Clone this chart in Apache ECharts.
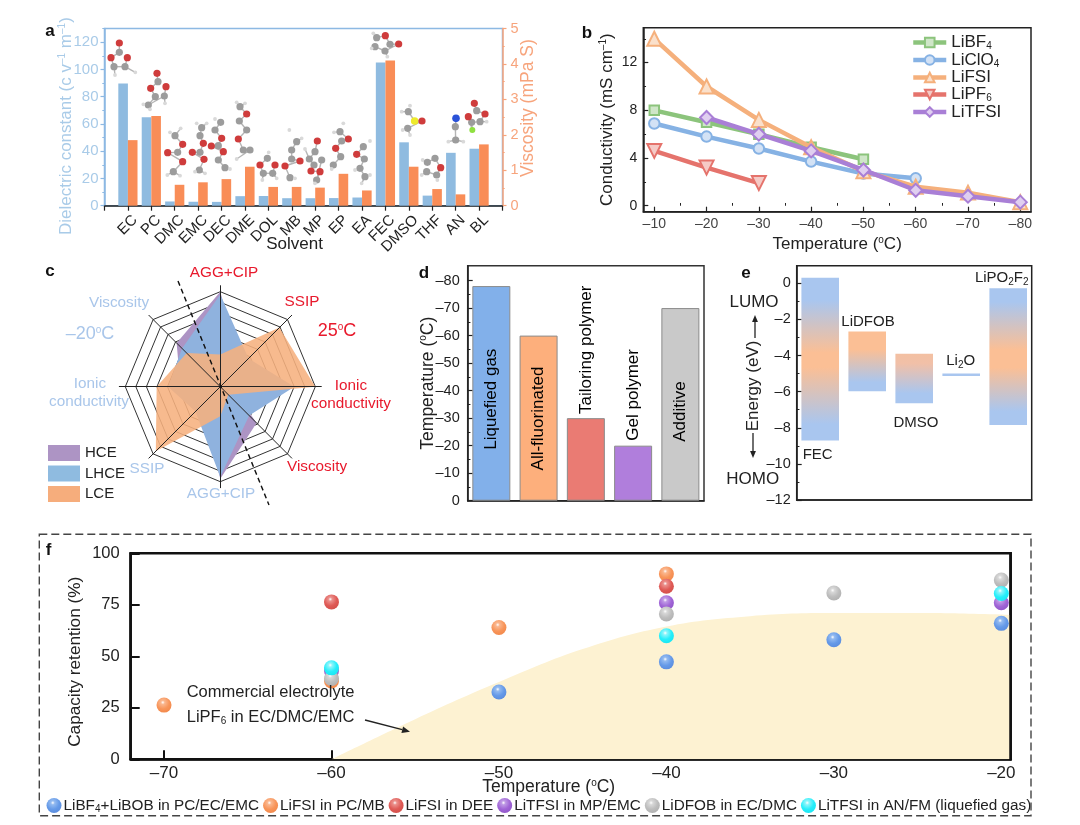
<!DOCTYPE html>
<html><head><meta charset="utf-8">
<style>html,body{margin:0;padding:0;background:#fff}#c{width:1080px;height:825px}</style>
<script src="https://cdn.jsdelivr.net/npm/echarts@6/dist/echarts.min.js"></script>
</head><body><div id="c"></div>
<script>
// ---------- DATA ----------
const solvents = ['EC','PC','DMC','EMC','DEC','DME','DOL','MB','MP','EP','EA','FEC','DMSO','THF','AN','BL'];
const dielectric = [89.6,64.9,3.1,2.9,2.8,7.0,7.1,5.5,5.5,5.6,6.0,105,46.5,7.4,38.8,41.8];
const viscosity = [1.85,2.53,0.59,0.66,0.75,1.1,0.53,0.53,0.51,0.9,0.43,4.1,1.1,0.47,0.32,1.73];

const bTemps = [-10,-20,-30,-40,-50,-60,-70,-80];
const liBF4 = [8,7,6,4.9,3.9,null,null,null];
const liClO4 = [6.9,5.8,4.8,3.7,2.7,2.3,null,null];
const liFSI = [14,10,7.2,4.9,2.9,1.6,1.1,0.3];
const liPF6 = [4.6,3.2,1.9,null,null,null,null,null];
const liTFSI = [null,7.4,6,4.6,3,1.3,0.8,0.3];

const radarAxes = ['AGG+CIP 25','Viscosity -20','Ionic conductivity -20','SSIP -20','AGG+CIP -20','Viscosity 25','Ionic conductivity 25','SSIP 25'];
const hce = [1.0,0.65,0.42,0.28,0.97,0.54,0.12,0.3];
const lhce = [0.97,0.57,0.55,0.37,0.95,0.43,0.78,0.42];
const lce = [0.34,0.5,0.67,0.96,0.31,0.12,1.0,0.88];

const dCats = ['Liquefied gas','All-fluorinated','Tailoring polymer','Gel polymer','Additive'];
const dTemps = [-78,-60,-30,-20,-70];
const dLabelAnchor = [-18.5,-11,-31.5,-21.8,-21.4];

const eCats = ['FEC','LiDFOB','DMSO','Li2O','LiPO2F2'];
const eTop = [0.31,-2.67,-3.9,-5.0,-0.28];
const eBottom = [-8.7,-5.98,-6.64,-5.14,-7.84];

const fTemps = [-70,-60,-50,-40,-30,-20];
const fBlue = [null,null,32.7,47.3,58,66];
const fOrange = [26.3,38,64,90,null,null];
const fRed = [null,76.4,null,84,null,null];
const fPurple = [null,43,null,76,null,76];
const fGrey = [null,39.2,null,70.5,80.7,87];
const fCyan = [null,44.4,null,60,null,80.5];
const commTemps = [-60,-55,-50,-45,-40,-35,-30,-25,-20,-19.44];
const commCapacity = [0,19.5,37.5,53.5,64.5,69.5,71,71,70.3,70];

// ---------- STYLE ----------
const F = '"Liberation Sans", Arial, sans-serif';
const INK = '#222';
const sup = {fontSize:10, padding:[0,0,8,0], fontFamily:F};
const sub = {fontSize:10, padding:[8,0,0,0], fontFamily:F};
const dash = v => v < 0 ? '–' + Math.abs(v) : '' + v;
const zip = (xs, ys) => xs.map((x,i)=>[x,ys[i]]).filter(p=>p[1]!=null);
const range = (a,b,s) => { const r=[]; for(let v=a; s>0? v<=b : v>=b; v+=s) r.push(v); return r; };

const grid=[], xAxis=[], yAxis=[], series=[];
function addGrid(left,top,width,height,extra){ grid.push(Object.assign({left,top,width,height,containLabel:false},extra||{})); return grid.length-1; }
function addAxis(list,o){
  const base = {gridIndex:o.grid,type:o.type||'value',min:o.min,max:o.max,inverse:!!o.inverse,position:o.pos,splitLine:{show:false},data:o.data};
  const main = Object.assign({},base,{
    name:o.name,nameLocation:'middle',nameGap:o.nameGap,nameMoveOverlap:false,
    nameTextStyle:{fontFamily:F,fontSize:o.nameSize||17,color:o.nameColor||INK,rich:o.nameRich,padding:o.namePad},
    axisLine:{show:true,onZero:false,lineStyle:{color:o.lineColor||'#222',width:o.lineWidth||1.5}},
    axisTick:{show:true,inside:!!o.inside,length:o.len||5,customValues:o.major,alignWithLabel:true,lineStyle:{color:o.lineColor||'#222',width:o.tickWidth||1.2}},
    axisLabel:Object.assign({show:true,customValues:o.labels||o.major,formatter:o.fmt||dash,color:o.color||INK,fontFamily:F,fontSize:o.size||14.5,margin:o.margin||7,rotate:o.rotate||0,showMinLabel:true,showMaxLabel:true,hideOverlap:false},o.labelExtra||{})
  });
  if(o.type==='category'){ main.axisTick={show:false}; main.axisLabel={show:false}; }
  list.push(main);
  const idx=list.length-1;
  if(o.minor){
    list.push(Object.assign({},base,{
      axisLine:{show:false},axisLabel:{show:false},
      axisTick:{show:true,inside:!!o.inside,length:(o.len||5)*0.55,customValues:o.minor,lineStyle:{color:o.lineColor||'#222',width:1}}
    }));
  }
  return idx;
}

// ---------- PANEL A ----------
const blueA='#a9cbe8', orangeA='#f7a47c';
const gA=addGrid(104.5,28.5,398,177.2,{show:true,borderColor:'#8db9e3',borderWidth:1.5,backgroundColor:'transparent'});
const xA=addAxis(xAxis,{grid:gA,min:0,max:17,pos:'bottom',major:range(0,17,1),labels:range(0,17,1),
  fmt:v=>solvents[v-1]||'',rotate:45,size:15,margin:5,labelExtra:{verticalAlign:'top',lineHeight:20},
  name:'Solvent',nameGap:30,namePad:[0,18,0,0]});
const yA=addAxis(yAxis,{grid:gA,min:0,max:130,pos:'left',major:range(0,120,20),minor:range(10,130,20),
  lineColor:'#8db9e3',color:blueA,size:15,margin:6,len:4,
  name:'Dielectric constant (c v{sup|–1} m{sup|–1})',nameColor:blueA,nameGap:29,nameSize:17,nameRich:{sup:Object.assign({},sup,{color:blueA})},namePad:[0,18,0,0]});
const yA2=addAxis(yAxis,{grid:gA,min:0,max:5,pos:'right',major:range(0,5,1),minor:[0.5,1.5,2.5,3.5,4.5],
  lineColor:orangeA,color:orangeA,size:14.5,margin:8,len:4,
  name:'Viscosity (mPa S)',nameColor:orangeA,nameGap:17,nameSize:17.5,namePad:[0,0,0,18]});
const aX=solvents.map((_,i)=>i+1);
series.push({name:'Dielectric constant',type:'bar',xAxisIndex:xA,yAxisIndex:yA,barWidth:9.6,barGap:'0%',
  data:zip(aX,dielectric),itemStyle:{color:'#8fbbe0'},z:3});
series.push({name:'Viscosity',type:'bar',xAxisIndex:xA,yAxisIndex:yA2,barWidth:9.6,barGap:'0%',
  data:zip(aX,viscosity),itemStyle:{color:'#f98d57'},z:3});

// ---------- PANEL B ----------
const gB=addGrid(643.3,27.7,387.7,184,{show:true,borderColor:'#222',borderWidth:1.5,backgroundColor:'transparent'});
const xB=addAxis(xAxis,{grid:gB,min:-82.05,max:-7.9,inverse:true,pos:'bottom',inside:true,major:range(-10,-80,-10),minor:range(-15,-75,-10),
  size:14,color:'#444',name:'Temperature ({sup|o}C)',nameGap:24,nameRich:{sup},margin:5});
const yB=addAxis(yAxis,{grid:gB,min:-0.5,max:14.93,pos:'left',inside:true,major:[0,4,8,12],minor:[2,6,10,14],
  size:14,margin:6,name:'Conductivity (mS cm{sup|–1})',nameGap:27,nameRich:{sup}});
const bSeries=[['LiBF4',liBF4,'#8cc47c','#cfe6c8','rect',9.5],['LiClO4',liClO4,'#86b2e4','#d3e2f5','circle',10.5],['LiFSI',liFSI,'#f5b07c','#fae0cb','triangle',14],['LiPF6',liPF6,'#e5736c','#f5cac6','triangle',14],['LiTFSI',liTFSI,'#a97fd6','#e0cff0','diamond',13]];
bSeries.forEach(([n,vals,c,pale,sym,size],i)=>{
  series.push({name:n,type:'line',xAxisIndex:xB,yAxisIndex:yB,data:zip(bTemps,vals),symbol:sym,symbolRotate:n==='LiPF6'?180:0,
    symbolSize:size,showSymbol:true,lineStyle:{color:c,width:4.5},
    itemStyle:{color:pale,borderColor:c,borderWidth:2,opacity:1},z:3+i});
});

// ---------- PANEL C ----------
const cCenter=[220.3,386.7];
const radar=[
 {center:cCenter,radius:95,startAngle:90,splitNumber:9,shape:'polygon',
  indicator:radarAxes.map(name=>({name,min:0,max:1})),
  axisName:{show:false},splitArea:{show:false},
  splitLine:{lineStyle:{color:'#333',width:1}},axisLine:{show:false},axisTick:{show:false},axisLabel:{show:false}},
 {center:cCenter,radius:101,startAngle:90,splitNumber:1,shape:'polygon',z:6,
  indicator:radarAxes.map(name=>({name,min:0,max:1})),
  axisName:{show:false},splitArea:{show:false},splitLine:{show:false},
  axisLine:{show:true,lineStyle:{color:'#222',width:1}},axisTick:{show:false},axisLabel:{show:false}}
];
series.push({type:'radar',radarIndex:0,symbol:'none',lineStyle:{width:0},z:3,data:[
  {name:'HCE',value:hce,areaStyle:{color:'#ad94c4',opacity:1},itemStyle:{color:'#ad94c4'}},
  {name:'LHCE',value:lhce,areaStyle:{color:'#8fb2de',opacity:1},itemStyle:{color:'#8fbbe0'}},
  {name:'LCE',value:lce,areaStyle:{color:'#f6b07e',opacity:0.88},itemStyle:{color:'#f6ad7c'}}
]});

// ---------- PANEL D ----------
const gD=addGrid(467.7,265.7,236.3,235,{show:true,borderColor:'#333',borderWidth:1.5,backgroundColor:'transparent'});
const xD=addAxis(xAxis,{grid:gD,type:'category',data:dCats,pos:'bottom'});
const yD=addAxis(yAxis,{grid:gD,min:-85.4,max:0,inverse:true,pos:'left',inside:true,major:range(-80,0,10),minor:range(-75,-5,10),
  margin:8,name:'Temperature ({sup|o}C)',nameGap:31,nameSize:17.5,nameRich:{sup}});
const dColors=['#82b0ea','#fdaf7c','#ea7b73','#b07edc','#c9c9c9'];
series.push({type:'bar',name:'Temperature',xAxisIndex:xD,yAxisIndex:yD,barWidth:38,
  data:dTemps.map((v,i)=>({value:v,itemStyle:{color:dColors[i],borderColor:'#8b8b8b',borderWidth:1}})),z:3});
series.push({type:'scatter',name:'Strategy',xAxisIndex:xD,yAxisIndex:yD,symbolSize:1,itemStyle:{color:'transparent'},z:5,silent:true,
  data:dLabelAnchor.map((v,i)=>[i,v]),
  label:{show:true,position:'inside',rotate:90,align:'left',verticalAlign:'middle',fontFamily:F,fontSize:17,color:'#000',opacity:1,
    formatter:p=>dCats[p.dataIndex]}});

// ---------- PANEL E ----------
const gE=addGrid(796.7,265.7,235,234.4,{show:true,borderColor:'#222',borderWidth:1.5,backgroundColor:'transparent'});
const xE=addAxis(xAxis,{grid:gE,type:'category',data:eCats,pos:'bottom'});
const yE=addAxis(yAxis,{grid:gE,min:-12,max:0.97,pos:'left',inside:true,major:range(-12,0,2),minor:range(-11,-1,2),margin:6});
const EB='#a9c6ef', EO='#fbbf95';
const eStops=[
 [[0,EB],[0.14,EB],[0.46,EO],[0.55,EO],[0.9,EB],[1,EB]],
 [[0,EO],[0.3,EO],[0.85,EB],[1,EB]],
 [[0,'#f3c0a2'],[0.2,'#f1c0a8'],[0.8,EB],[1,EB]],
 [[0,EB],[1,EB]],
 [[0,EB],[0.1,EB],[0.45,EO],[0.58,EO],[0.9,EB],[1,EB]]
];
series.push({type:'custom',name:'Energy',xAxisIndex:xE,yAxisIndex:yE,z:3,
  data:eTop.map((t,i)=>[i,t,eBottom[i]]),encode:{x:0,y:[1,2]},
  renderItem:(params,api)=>{
    const i=api.value(0), a=api.coord([i,api.value(1)]), b=api.coord([i,api.value(2)]), w=api.size([1,0])[0]*0.8;
    return {type:'rect',shape:{x:a[0]-w/2,y:a[1],width:w,height:b[1]-a[1]},
      style:{fill:new echarts.graphic.LinearGradient(0,0,0,1,eStops[i].map(s=>({offset:s[0],color:s[1]})))}};
  }});

// ---------- PANEL F ----------
const gF=addGrid(130.7,553.3,880,206,{show:true,borderColor:'#111',borderWidth:2.5,backgroundColor:'transparent'});
const xF=addAxis(xAxis,{grid:gF,min:-71.99,max:-19.44,pos:'bottom',inside:true,major:range(-70,-20,10),len:9,tickWidth:2,lineWidth:2.5,lineColor:'#111',
  size:17,margin:6,name:'Temperature ({sup|o}C)',nameGap:19,nameSize:17.5,nameRich:{sup},namePad:[0,44,0,0]});
const yF=addAxis(yAxis,{grid:gF,min:0,max:100,pos:'left',inside:true,major:[0,25,50,75,100],len:9,tickWidth:2,lineWidth:2.5,lineColor:'#111',
  size:16.5,margin:11,name:'Capacity retention (%)',nameGap:47,nameSize:17.2,namePad:[0,11,0,0]});
yAxis.push({gridIndex:gF,type:'value',min:0,max:100,position:'right',splitLine:{show:false},axisLabel:{show:false},axisTick:{show:false},
  axisLine:{show:true,onZero:false,lineStyle:{color:'#111',width:2.5}},z:6});
series.push({type:'line',name:'Commercial electrolyte',xAxisIndex:xF,yAxisIndex:yF,smooth:0.4,showSymbol:false,symbol:'none',
  data:zip(commTemps,commCapacity),lineStyle:{width:0},areaStyle:{color:'#fdf2d2',opacity:1},z:1,silent:true});
const sphere=(mid,dark,light)=>({type:'radial',x:0.42,y:0.32,r:0.72,colorStops:[{offset:0,color:'#ffffff'},{offset:0.18,color:light},{offset:0.6,color:mid},{offset:1,color:dark}]});
const fSeries=[
 ['LiBF{s|4}+LiBOB in PC/EC/EMC','LiBF4+LiBOB in PC/EC/EMC',fBlue,sphere('#659ae8','#5a8cde','#93baf0')],
 ['LiFSI in PC/MB','LiFSI in PC/MB',fOrange,sphere('#f8955a','#f2884a','#fab78f')],
 ['LiFSI in DEE','LiFSI in DEE',fRed,sphere('#df5a56','#d34f4a','#eb908c')],
 ['LiTFSI in MP/EMC','LiTFSI in MP/EMC',fPurple,sphere('#a064d6','#9156c9','#bf9ae5')],
 ['LiDFOB in EC/DMC','LiDFOB in EC/DMC',fGrey,sphere('#bdbdbd','#b0b0b0','#d8d8d8')],
 ['LiTFSI in AN/FM (liquefied gas)','LiTFSI in AN/FM (liquefied gas)',fCyan,sphere('#26eefa','#1ae6f2','#8bf5fb')]
];
fSeries.forEach(([_,n,vals,c],i)=>{
  series.push({type:'scatter',name:n,xAxisIndex:xF,yAxisIndex:yF,symbol:'circle',symbolSize:15,data:zip(fTemps,vals),itemStyle:{color:c,opacity:1},z:4+i});
});

// ---------- ANNOTATIONS ----------
const red='#e8192c', lb='#a9c6ea';
const T=(x,y,text,o)=>Object.assign({type:'text',x,y,z:50,silent:true,style:Object.assign({text,fill:INK,font:'15px '+F,fontFamily:F,fontSize:15,align:'center',verticalAlign:'middle',rich:{s:Object.assign({},sub),u:Object.assign({},sup)}},(o||{}))});
const L=(x1,y1,x2,y2,o)=>({type:'line',z:50,silent:true,shape:{x1,y1,x2,y2},style:Object.assign({stroke:'#222',lineWidth:1.3},o||{})});
function arrow(x1,y1,x2,y2,head){
  const a=Math.atan2(y2-y1,x2-x1), h=head||7, w=h*0.42;
  const bx=x2-h*Math.cos(a), by=y2-h*Math.sin(a);
  return [L(x1,y1,bx,by),{type:'polygon',z:50,silent:true,shape:{points:[[x2,y2],[bx-w*Math.sin(a),by+w*Math.cos(a)],[bx+w*Math.sin(a),by-w*Math.cos(a)]]},style:{fill:'#222'}}];
}
const bold=s=>({fontWeight:'bold',fontSize:17,fill:'#111'});
const atoms={C:[3.6,'#9c9c9c'],O:[3.6,'#cf3c3c'],H:[1.9,'#d9d9d9'],S:[3.8,'#eeea2c'],N:[3.8,'#2a52d8'],F:[3,'#8fe040']};
const molecules=[
 'O268,84 C268,112 O243,128 C252,155 H255,180 C285,155 H316,172 O292,128',
 'O381,175 C384,200 O362,220 C376,245 C355,270 H340,268 H360,283 C403,243 H405,265 O408,215',
 'H420,352 C435,362 H452,340 O458,388 C443,412 O413,413 O458,440 C430,470 H412,480 H450,482',
 'H500,325 C515,338 H530,325 C510,362 O520,385 C510,412 O487,412 O522,433 C508,465 H495,470 H525,475',
 'H555,312 C572,322 C555,345 O575,370 C565,392 O544,393 O580,410 C565,435 C585,458 H600,462',
 'H620,262 C630,275 H645,265 O650,297 C628,318 C650,345 O625,372 C640,405 C660,405 H620,432',
 'H716,412 C712,430 O690,450 C700,475 H697,495 C728,475 H740,490 O735,450',
 'H778,345 C800,380 H815,370 C785,405 C785,432 O810,438 O765,453 C780,488 H795,490',
 'O862,378 C855,410 C838,432 H825,402 C852,450 O843,468 O870,470 C860,495 H855,505 C875,435',
 'H940,325 C930,350 H912,352 O955,372 C935,378 O917,400 C932,425 C910,450 H905,462',
 'H1020,378 C1000,395 O980,418 C1003,432 C990,460 H975,465 C1005,485 H1020,480 H995,505',
 'H1030,55 C1040,68 O1066,62 C1080,88 O1106,87 C1065,108 H1072,125 C1035,95 H1025,100',
 'H1140,272 C1135,290 H1115,290 S1154,318 O1176,318 C1133,340 H1118,345 H1140,360',
 'H1178,435 C1192,442 C1215,430 O1232,458 C1220,480 H1222,495 C1190,470 H1175,480',
 'N1278,310 C1276,335 C1277,375 H1255,380 H1300,380',
 'O1333,265 C1340,287 O1365,297 C1350,320 H1370,320 C1325,322 F1327,345 O1315,305'
];
const molGraphics=[];
molecules.forEach(m=>{
  let prev=null;
  const parsed=m.split(' ').map(a=>{const [x,y]=a.slice(1).split(',').map(Number);return {t:a[0],x:30+x/3,y:15+y/3};});
  parsed.forEach(a=>{
    if(prev) molGraphics.push({type:'line',z:6,silent:true,shape:{x1:prev.x,y1:prev.y,x2:a.x,y2:a.y},style:{stroke:'#b5b5b5',lineWidth:1.4}});
    if(a.t!=='H') prev=a;
  });
  parsed.forEach(a=>{
    const [r,c]=atoms[a.t];
    molGraphics.push({type:'circle',z:7,silent:true,shape:{cx:a.x,cy:a.y,r},style:{fill:c}});
  });
});
const cl={fontSize:15.3};
const graphic=[
 ...molGraphics,
 T(50,31.5,'a',bold()),T(587,33,'b',bold()),T(50,271.5,'c',bold()),T(424,273,'d',bold()),T(746,273.5,'e',bold()),T(48.5,550,'f',bold()),
 // panel c
 T(224,273,'AGG+CIP',{fill:red,...cl}),T(302,302,'SSIP',{fill:red,...cl}),T(337,331,'25{u|o}C',{fill:red,fontSize:18,rich:{u:Object.assign({},sup,{fill:red,color:red})}}),
 T(351,386,'Ionic',{fill:red,...cl}),T(351,404,'conductivity',{fill:red,...cl}),T(317,467,'Viscosity',{fill:red,...cl}),
 T(221,494,'AGG+CIP',{fill:lb,...cl}),T(147,469,'SSIP',{fill:lb,...cl}),T(90,384,'Ionic',{fill:lb,...cl}),T(89,402,'conductivity',{fill:lb,...cl}),
 T(119,303,'Viscosity',{fill:lb,...cl}),T(90,334,'–20{u|o}C',{fill:lb,fontSize:18,rich:{u:Object.assign({},sup,{fill:lb,color:lb})}}),
 L(178,281,269,505,{lineDash:[5,3.5],stroke:'#111',lineWidth:1.4}),
 // panel e
 T(817.7,455,'FEC'),T(868,322,'LiDFOB'),T(916,423,'DMSO'),T(960.7,361,'Li{s|2}O'),T(1001.7,278,'LiPO{s|2}F{s|2}'),
 T(754,302.7,'LUMO',{fontSize:17}),T(752.7,479,'HOMO',{fontSize:17}),
 Object.assign(T(0,0,'Energy (eV)',{fontSize:17}),{x:753,y:386,rotation:Math.PI/2}),
 ...arrow(755,338,755,315),...arrow(753,433,753,458),
 // panel f
 T(186.7,692,'Commercial electrolyte',{align:'left',fontSize:16.5}),
 T(186.7,717.7,'LiPF{s|6} in EC/DMC/EMC',{align:'left',fontSize:16.5}),
 ...arrow(365,720,410,731.7,8),
 {type:'rect',z:40,silent:true,shape:{x:39.3,y:534.3,width:991.7,height:281.4},style:{fill:'none',stroke:'#444',lineWidth:1.4,lineDash:[8,4]}}
];

// ---------- LEGENDS ----------
const legend=[
 {data:['LiBF4','LiClO4','LiFSI','LiPF6','LiTFSI'],orient:'vertical',left:911,top:34,padding:0,itemWidth:33,itemHeight:12,itemGap:0,selectedMode:false,
  lineStyle:{width:4.5},
  textStyle:{fontFamily:F,fontSize:17,color:INK,rich:{a:{fontFamily:F,fontSize:17,color:INK},s:Object.assign({},sub,{color:INK})}},
  formatter:n=>n.replace(/(\d)/,'{s|$1}')},
 {data:['HCE','LHCE','LCE'],orient:'vertical',left:48,top:445,padding:0,icon:'rect',itemWidth:32,itemHeight:16,itemGap:4.5,selectedMode:false,
  textStyle:{fontFamily:F,fontSize:15,color:INK}},
 {data:fSeries.map(s=>s[1]),orient:'horizontal',left:46.5,top:798,padding:0,icon:'circle',itemWidth:15,itemHeight:15,itemGap:4,selectedMode:false,width:1020,
  textStyle:{fontFamily:F,fontSize:15.3,color:INK,padding:[0,0,0,-3],rich:{s:Object.assign({},sub,{color:INK})}},
  formatter:n=>n.replace('LiBF4','LiBF{s|4}')}
];

const chart=echarts.init(document.getElementById('c'),null,{renderer:'canvas',width:1080,height:825});
chart.setOption({animation:false,backgroundColor:'#fff',textStyle:{fontFamily:F},tooltip:{show:false},grid,xAxis,yAxis,radar,series,legend,graphic});
</script></body></html>
